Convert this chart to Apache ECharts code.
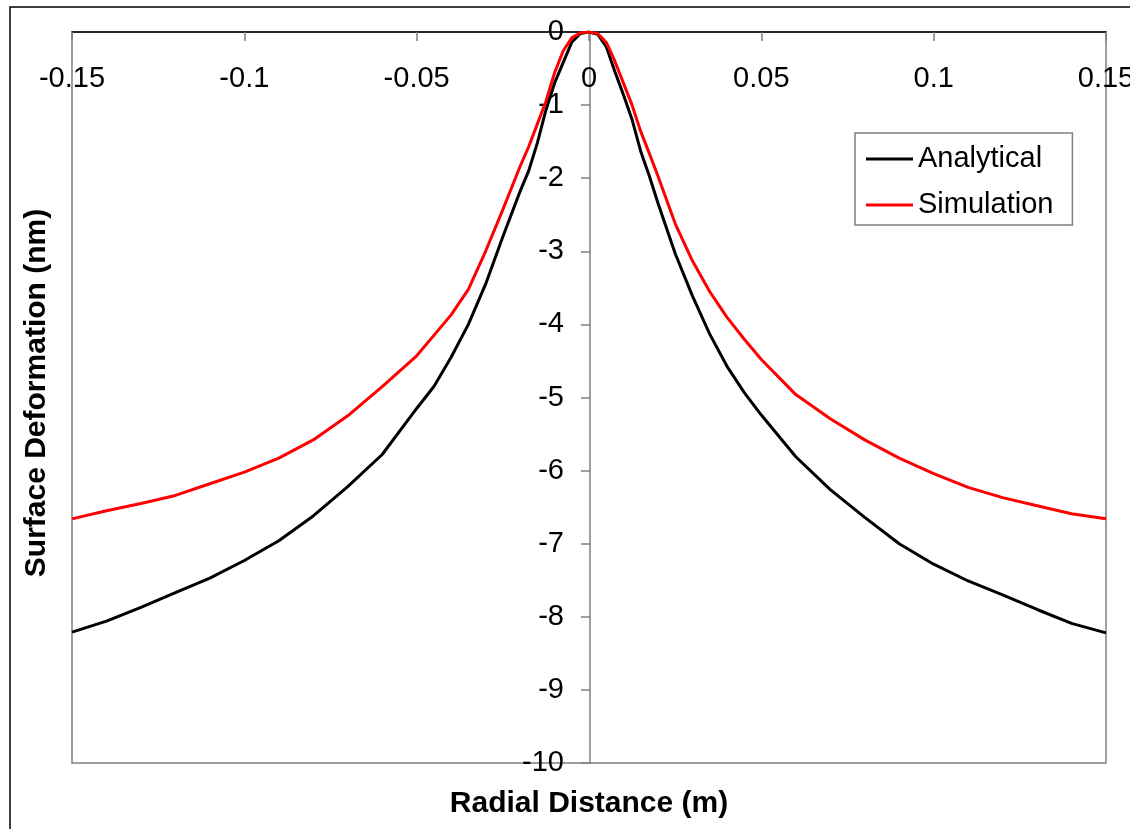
<!DOCTYPE html>
<html>
<head>
<meta charset="utf-8">
<script src="https://cdn.jsdelivr.net/npm/echarts@6/dist/echarts.min.js"></script>
<style>
html,body{margin:0;padding:0;background:#fff;}
#chart{width:1130px;height:829px;}
</style>
</head>
<body>
<div id="chart"></div>
<script>
var xValues = [-0.15,-0.14,-0.13,-0.12,-0.11,-0.10,-0.09,-0.08,-0.07,-0.06,-0.05,-0.045,-0.04,-0.035,-0.03,-0.025,-0.02,-0.0175,-0.015,-0.0125,-0.01,-0.0075,-0.005,-0.0025,
  0,
  0.0025,0.005,0.0075,0.01,0.0125,0.015,0.0175,0.02,0.025,0.03,0.035,0.04,0.045,0.05,0.06,0.07,0.08,0.09,0.10,0.11,0.12,0.13,0.14,0.15];

var analytical = [-8.21,-8.06,-7.87,-7.67,-7.47,-7.23,-6.96,-6.62,-6.22,-5.78,-5.15,-4.85,-4.45,-4.00,-3.45,-2.80,-2.18,-1.90,-1.52,-1.07,-0.70,-0.42,-0.14,-0.02,
  0,
  -0.03,-0.20,-0.54,-0.86,-1.20,-1.63,-1.97,-2.34,-3.03,-3.61,-4.13,-4.57,-4.93,-5.24,-5.81,-6.26,-6.64,-7.00,-7.28,-7.51,-7.70,-7.90,-8.09,-8.22];

var simulation = [-6.66,-6.55,-6.45,-6.34,-6.18,-6.02,-5.83,-5.58,-5.25,-4.85,-4.43,-4.15,-3.87,-3.52,-3.00,-2.43,-1.84,-1.57,-1.26,-0.95,-0.56,-0.26,-0.08,-0.01,
  0,
  -0.02,-0.14,-0.40,-0.70,-1.00,-1.36,-1.66,-1.97,-2.62,-3.13,-3.55,-3.90,-4.20,-4.48,-4.96,-5.29,-5.58,-5.83,-6.04,-6.23,-6.37,-6.48,-6.59,-6.66];

var xTickLabels = ['-0.15','-0.1','-0.05','0','0.05','0.1','0.15'];
var seriesNames = ['Analytical','Simulation'];
var xTitle = 'Radial Distance (m)';
var yTitle = 'Surface Deformation (nm)';

var FONT = '"Liberation Sans", Arial, sans-serif';

function pairs(ys){ return xValues.map(function(x,i){ return [x, ys[i]]; }); }

var chart = echarts.init(document.getElementById('chart'), null, {renderer:'canvas'});
chart.setOption({
  animation: false,
  backgroundColor: '#fff',
  grid: {left:72, top:32, width:1034, height:731, containLabel:false, outerBoundsMode:'none',
    show:true, borderColor:'#808080', borderWidth:1.5, backgroundColor:'transparent'},
  xAxis: {
    type:'value', min:-0.15, max:0.15, interval:0.05,
    position:'top',
    axisLine:{show:true, onZero:false, lineStyle:{color:'#000', width:1.5}},
    axisTick:{show:true, inside:true, length:9, lineStyle:{color:'#808080', width:1.5}},
    splitLine:{show:false},
    axisLabel:{inside:true, margin:32, fontSize:29, fontFamily:FONT, color:'#000', hideOverlap:false,
      formatter:function(v){ return xTickLabels[Math.round((v+0.15)/0.05)]; }}
  },
  yAxis: {
    type:'value', min:-10, max:0, interval:1,
    position:'left', offset:-518,
    axisLine:{show:true, onZero:false, lineStyle:{color:'#808080', width:1.5}},
    axisTick:{show:true, length:9, lineStyle:{color:'#808080', width:1.5}},
    splitLine:{show:false},
    axisLabel:{margin:26, fontSize:29, fontFamily:FONT, color:'#000', hideOverlap:false}
  },
  legend: {
    orient:'vertical', left:855, top:133,
    data: seriesNames,
    icon:'rect', itemWidth:47, itemHeight:3, itemGap:16,
    padding:[11,19,5,11],
    borderColor:'#808080', borderWidth:1.5, backgroundColor:'#fff',
    textStyle:{fontSize:29, fontFamily:FONT, color:'#000', lineHeight:30}
  },
  graphic: [
    {type:'rect', z:-10, shape:{x:10, y:7, width:1300, height:1000}, style:{fill:'none', stroke:'#000', lineWidth:1.5}, silent:true},
    {type:'text', x:589, y:804, style:{text:xTitle, font:'bold 30px ' + FONT, fill:'#000', textAlign:'center', textVerticalAlign:'middle'}},
    {type:'text', x:37, y:393, rotation:Math.PI/2, style:{text:yTitle, font:'bold 30px ' + FONT, fill:'#000', textAlign:'center', textVerticalAlign:'middle'}}
  ],
  series: [
    {name:seriesNames[0], type:'line', data:pairs(analytical), showSymbol:false, symbol:'none', smooth:false,
      itemStyle:{color:'#000'}, lineStyle:{color:'#000', width:3}},
    {name:seriesNames[1], type:'line', data:pairs(simulation), showSymbol:false, symbol:'none', smooth:false,
      itemStyle:{color:'#ff0000'}, lineStyle:{color:'#ff0000', width:3}}
  ]
});
</script>
</body>
</html>
